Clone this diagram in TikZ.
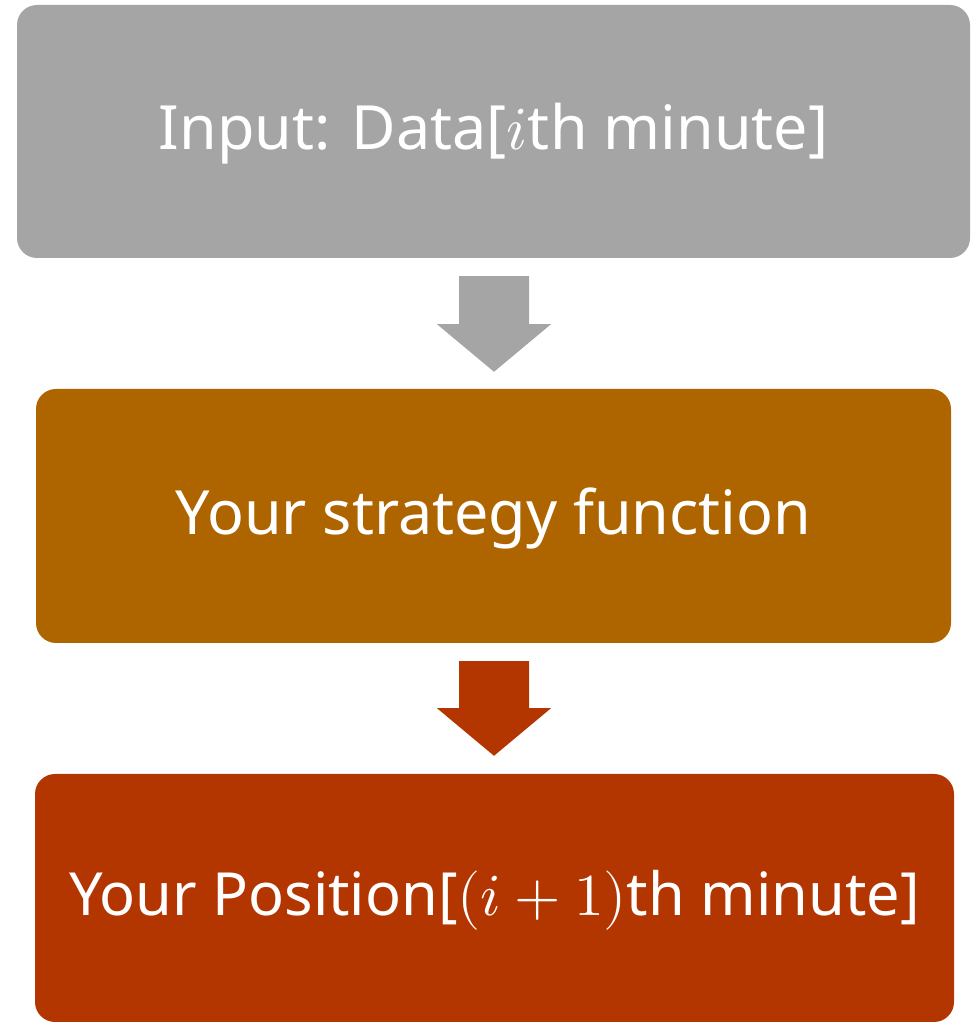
\documentclass[tikz,border=0pt]{standalone}
\usepackage{fontspec}
\usepackage{unicode-math}
\setmainfont{Noto Sans}
\setmathfont{Latin Modern Math}
\usetikzlibrary{calc}
\definecolor{boxgray}{HTML}{A5A5A5}
\definecolor{boxorange}{HTML}{AE6500}
\definecolor{boxred}{HTML}{B33500}
\tikzset{
  stepbox/.style={rectangle, rounded corners=20pt, inner sep=0pt, text=white,
    font=\fontsize{61}{70}\selectfont, text depth=10pt},
  blockarrow/.style={draw=none}
}
\begin{document}
\begin{tikzpicture}[x=1pt,y=1pt]
\useasboundingbox (0,0) rectangle (971,1023);
\node[stepbox, fill=boxgray, minimum width=953pt, minimum height=253pt] (b1) at (493.5,891.5) {Input: Data[$i$th minute]};
\node[stepbox, fill=boxorange, minimum width=915pt, minimum height=254pt] (b2) at (493.5,507) {Your strategy function};
\node[stepbox, fill=boxred, minimum width=919pt, minimum height=248pt, font=\fontsize{59.5}{70}\selectfont] (b3) at (494.5,125) {Your Position[$(i+1)$th minute]};
% arrow 1
\coordinate (a1top) at ($(b1.south)+(0.5,-18)$);
\coordinate (a1tip) at ($(b2.north)+(0.5,17)$);
\fill[boxgray] ($(a1top)+(-35,0)$) -- ($(a1top)+(35,0)$) -- ($(a1top)+(35,-48)$) -- ($(a1top)+(57,-48)$)
  -- (a1tip) -- ($(a1top)+(-57,-48)$) -- ($(a1top)+(-35,-48)$) -- cycle;
% arrow 2
\coordinate (a2top) at ($(b2.south)+(0.5,-18)$);
\coordinate (a2tip) at ($(b3.north)+(-0.5,18)$);
\fill[boxred] ($(a2top)+(-35,0)$) -- ($(a2top)+(35,0)$) -- ($(a2top)+(35,-47)$) -- ($(a2top)+(57,-47)$)
  -- (a2tip) -- ($(a2top)+(-57,-47)$) -- ($(a2top)+(-35,-47)$) -- cycle;
\end{tikzpicture}
\end{document}
